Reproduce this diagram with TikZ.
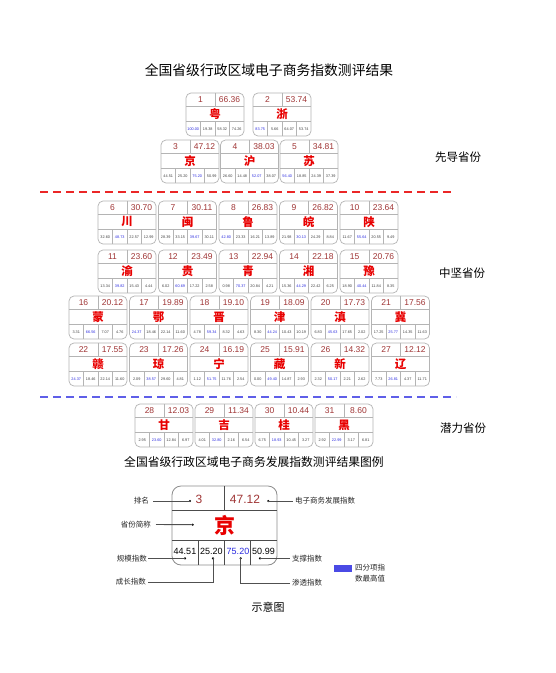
\documentclass[tikz,border=0pt]{standalone}
\usepackage{fontspec}
\setmainfont{Liberation Sans}
\newfontfamily\cjk{Noto Sans CJK SC}
\definecolor{numred}{HTML}{A03535}
\definecolor{provred}{HTML}{E80000}
\definecolor{numblue}{HTML}{2A2AE0}
\definecolor{cardgray}{HTML}{B4B4B4}
\definecolor{legline}{HTML}{505050}
\newcommand\bl[1]{\textcolor{numblue}{#1}}
\tikzset{
  cardbox/.style={draw=cardgray,line width=0.7pt,rounded corners=5pt,minimum width=58pt,minimum height=43pt,inner sep=0pt,fill=white},
  cdiv/.style={draw=cardgray,line width=0.6pt},
  rk/.style={inner sep=0pt,text=numred,font=\fontsize{8.5}{9}\selectfont},
  prov/.style={inner sep=0pt,text=provred,font=\cjk\bfseries\fontsize{11.5}{12}\selectfont},
  sm/.style={inner sep=0pt,text=black!75,font=\fontsize{3.8}{4}\selectfont},
  sect/.style={inner sep=0pt,font=\cjk\fontsize{11.5}{12}\selectfont},
  ann/.style={inner sep=0pt,font=\cjk\fontsize{7.5}{8}\selectfont,text=black!85},
  annline/.style={draw=legline,line width=0.9pt},
  dotmark/.style={circle,fill=black,inner sep=0pt,minimum size=2.4pt},
}
\newcommand\card[9]{%
\begin{scope}[shift={(#2,#3)}]
\node[cardbox] (c#1) at (29,21.5) {};
\draw[cdiv] (0,13) -- (58,13) (0,28.5) -- (58,28.5) (29,0) -- (29,13)
  (14.5,28.5) -- (14.5,43) (29,28.5) -- (29,43) (43.5,28.5) -- (43.5,43);
\node[rk] (r#1) at (14.5,6.9) {#1};
\node[rk] (s#1) at (43.5,6.9) {#4};
\node[prov] (p#1) at (29,20.9) {#5};
\node[sm] (a#1) at (7.25,35.8) {#6};
\node[sm] (b#1) at (21.75,35.8) {#7};
\node[sm] (d#1) at (36.25,35.8) {#8};
\node[sm] (e#1) at (50.75,35.8) {#9};
\end{scope}}
\begin{document}
\begin{tikzpicture}[x=1pt,y=-1pt]
\useasboundingbox[fill=white] (0,0) rectangle (556,673);
\node[inner sep=0pt,font=\cjk\fontsize{13.8}{15}\selectfont] (title) at (269,70) {全国省级行政区域电子商务指数测评结果};
% leading
\card{1}{186}{93}{66.36}{粤}{\bl{100.00}}{19.38}{58.32}{74.26}
\card{2}{253}{93}{53.74}{浙}{\bl{83.75}}{5.66}{64.07}{53.74}
\card{3}{161}{140}{47.12}{京}{44.51}{25.20}{\bl{75.20}}{50.99}
\card{4}{220.5}{140}{38.03}{沪}{26.60}{14.48}{\bl{52.07}}{38.07}
\card{5}{280}{140}{34.81}{苏}{\bl{56.40}}{18.85}{24.39}{37.39}
\node[sect] (lead) at (458,157) {先导省份};
\coordinate (rd1) at (40,192);
\coordinate (rd2) at (452,192);
\draw[provred!85!white,line width=1.4pt,dash pattern=on 8pt off 5pt] (rd1) -- (rd2);
% middle
\card{6}{98}{201}{30.70}{川}{32.60}{\bl{48.73}}{22.57}{12.99}
\card{7}{158.5}{201}{30.11}{闽}{28.39}{33.15}{\bl{39.67}}{30.11}
\card{8}{219}{201}{26.83}{鲁}{\bl{42.80}}{23.33}{16.21}{13.89}
\card{9}{279.5}{201}{26.82}{皖}{21.98}{\bl{30.13}}{24.29}{8.84}
\card{10}{340}{201}{23.64}{陕}{11.67}{\bl{55.64}}{20.55}{9.49}
\card{11}{98}{250}{23.60}{渝}{13.34}{\bl{39.82}}{15.43}{4.44}
\card{12}{158.5}{250}{23.49}{贵}{6.02}{\bl{60.69}}{17.22}{2.58}
\card{13}{219}{250}{22.94}{青}{0.98}{\bl{70.37}}{20.84}{4.21}
\card{14}{279.5}{250}{22.18}{湘}{15.36}{\bl{44.29}}{22.42}{6.25}
\card{15}{340}{250}{20.76}{豫}{18.90}{\bl{40.44}}{11.84}{8.35}
\node[sect] (mid) at (462,273) {中坚省份};
\card{16}{69}{296}{20.12}{蒙}{3.31}{\bl{66.56}}{7.07}{4.76}
\card{17}{129.5}{296}{19.89}{鄂}{\bl{24.37}}{18.46}{22.14}{11.60}
\card{18}{190}{296}{19.10}{晋}{4.78}{\bl{59.34}}{8.32}{4.63}
\card{19}{250.5}{296}{18.09}{津}{8.30}{\bl{44.24}}{10.43}{10.19}
\card{20}{311}{296}{17.73}{滇}{6.83}{\bl{45.63}}{17.65}{2.02}
\card{21}{371.5}{296}{17.56}{冀}{17.25}{\bl{25.77}}{14.35}{11.63}
\card{22}{69}{343}{17.55}{赣}{\bl{24.37}}{18.46}{22.14}{11.60}
\card{23}{129.5}{343}{17.26}{琼}{2.09}{\bl{38.57}}{29.60}{4.81}
\card{24}{190}{343}{16.19}{宁}{1.12}{\bl{51.75}}{11.76}{2.54}
\card{25}{250.5}{343}{15.91}{藏}{0.00}{\bl{49.40}}{14.87}{2.93}
\card{26}{311}{343}{14.32}{新}{2.32}{\bl{50.17}}{2.21}{2.62}
\card{27}{371.5}{343}{12.12}{辽}{7.73}{\bl{26.81}}{4.37}{11.71}
\coordinate (bd1) at (40,397);
\coordinate (bd2) at (456,397);
\draw[numblue!75!white,line width=1.4pt,dash pattern=on 8pt off 5pt] (bd1) -- (bd2);
% potential
\card{28}{135}{404}{12.03}{甘}{2.95}{\bl{23.60}}{12.84}{6.97}
\card{29}{195}{404}{11.34}{吉}{4.01}{\bl{32.80}}{2.16}{6.54}
\card{30}{255}{404}{10.44}{桂}{6.75}{\bl{18.93}}{10.45}{3.27}
\card{31}{315}{404}{8.60}{黑}{2.92}{\bl{22.99}}{3.17}{6.81}
\node[sect] (pot) at (463,428) {潜力省份};
% legend
\node[inner sep=0pt,font=\cjk\fontsize{11.8}{13}\selectfont] (ltitle) at (254,462) {全国省级行政区域电子商务发展指数测评结果图例};
\begin{scope}[shift={(172,486)}]
\node[draw=black!45,line width=0.8pt,rounded corners=9pt,minimum width=105pt,minimum height=79pt,inner sep=0pt] (lc) at (52.5,39.5) {};
\draw[draw=black!70,line width=0.9pt] (0,24) -- (105,24) (0,54) -- (105,54) (52.5,0) -- (52.5,24)
  (26.25,54) -- (26.25,79) (52.5,54) -- (52.5,79) (78.75,54) -- (78.75,79);
\node[inner sep=0pt,text=numred,font=\fontsize{12}{13}\selectfont] (lrank) at (27,13) {3};
\node[inner sep=0pt,text=numred,font=\fontsize{12}{13}\selectfont] (lscore) at (73,13) {47.12};
\node[inner sep=0pt,text=provred,font=\cjk\bfseries\fontsize{21}{22}\selectfont] (lprov) at (52.5,39.5) {京};
\node[inner sep=0pt,font=\fontsize{9}{10}\selectfont] (la) at (13,65) {44.51};
\node[inner sep=0pt,font=\fontsize{9}{10}\selectfont] (lb) at (39.4,65) {25.20};
\node[inner sep=0pt,text=numblue,font=\fontsize{9}{10}\selectfont] (ld) at (66,65) {75.20};
\node[inner sep=0pt,font=\fontsize{9}{10}\selectfont] (le) at (91.5,65) {50.99};
\node[dotmark] (dr) at (18,15) {};
\node[dotmark] (ds) at (96.3,15) {};
\node[dotmark] (dp) at (20.7,38.7) {};
\node[dotmark] (da) at (13,72.3) {};
\node[dotmark] (db) at (41,72.3) {};
\node[dotmark] (dd) at (68.7,72.3) {};
\node[dotmark] (de) at (88,72.3) {};
\end{scope}
\node[ann,anchor=east] (tr) at (149,501) {排名};
\node[ann,anchor=west] (ts) at (295,501) {电子商务发展指数};
\node[ann,anchor=east] (tp) at (151,524.5) {省份简称};
\node[ann,anchor=east] (ta) at (147,558.3) {规模指数};
\node[ann,anchor=east] (tb) at (146,582) {成长指数};
\node[ann,anchor=west] (te) at (292,558.3) {支撑指数};
\node[ann,anchor=west] (td) at (292,583) {渗透指数};
\draw[annline] (tr.east) ++(4pt,0) -- (dr.center);
\draw[annline] (ds.center) -- ([xshift=-2pt]ts.west);
\draw[annline] (tp.east) ++(5pt,0) -- (dp.center);
\draw[annline] (ta.east) ++(1pt,0) -- (da.center);
\draw[annline] (db.center) |- ([xshift=2pt]tb.east);
\draw[annline] (de.center) -- ([xshift=-2pt]te.west);
\draw[annline] (dd.center) |- ([xshift=-2pt]td.west);
\node[fill=numblue!85!white,minimum width=18pt,minimum height=7pt,inner sep=0pt] (key) at (343,568.5) {};
\node[ann,anchor=west] (k1) at (355,568) {四分项指};
\node[ann,anchor=west] (k2) at (355,578.5) {数最高值};
\node[inner sep=0pt,font=\cjk\fontsize{11}{12}\selectfont] (cap) at (268,607) {示意图};
\end{tikzpicture}
\end{document}
